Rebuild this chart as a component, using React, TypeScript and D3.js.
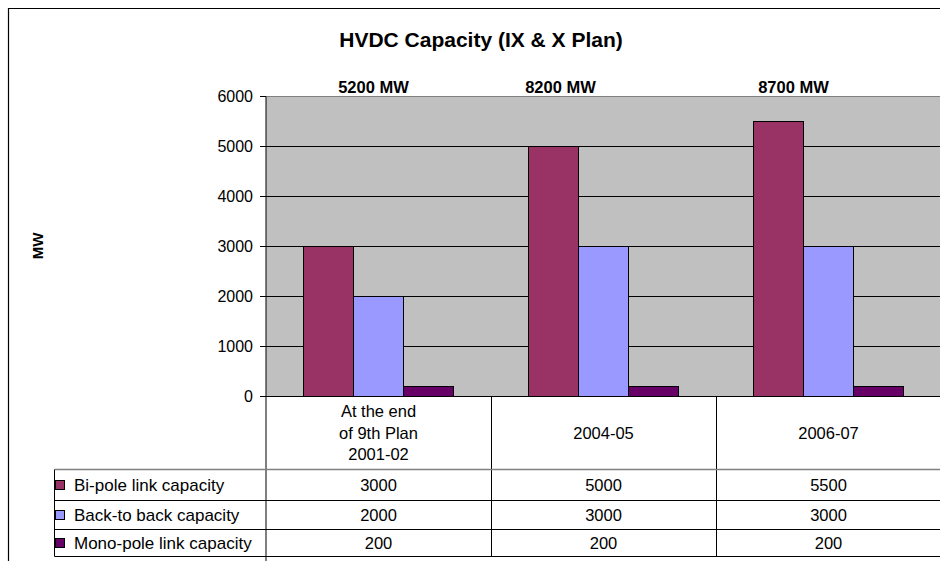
import { scaleBand, scaleLinear } from "d3";

const categories = ["At the end of 9th Plan 2001-02", "2004-05", "2006-07"];
const categoryLines = [["At the end", "of 9th Plan", "2001-02"], ["2004-05"], ["2006-07"]];
const seriesNames = ["Bi-pole link capacity", "Back-to back capacity", "Mono-pole link capacity"];
const biPole = [3000, 5000, 5500];
const backToBack = [2000, 3000, 3000];
const monoPole = [200, 200, 200];
const totalLabels = ["5200 MW", "8200 MW", "8700 MW"];
const yTicks = [0, 1000, 2000, 3000, 4000, 5000, 6000];

const colors = ["#993366", "#9999FF", "#660066"];
const font = "'Liberation Sans', Arial, sans-serif";

export default function App() {
  const width = 940;
  const height = 561;
  const plotLeft = 266;
  const plotRight = 941;
  const plotTop = 96.5;
  const plotBottom = 396.5;

  const series = [biPole, backToBack, monoPole];

  const x = scaleBand<string>().domain(categories).range([plotLeft, plotRight]);
  const xs = scaleBand<string>().domain(seriesNames).range([0, x.bandwidth()]).paddingOuter(0.75);
  const y = scaleLinear().domain([0, 6000]).range([plotBottom, plotTop]);

  // table rows
  const headerBottom = 469.5;
  const rowLines = [headerBottom, 500.5, 529.5, 556.5];
  const tableLeft = 54.5;

  // hand placed total labels (offset from category centre)
  const labelOffsets = [-5, -43, -35];

  return (
    <svg
      width={width}
      height={height}
      style={{ position: "absolute", left: 0, top: 0 }}
      fontFamily={font}
    >
      <rect x={0} y={0} width={width} height={height} fill="#fff" />
      {/* chart frame, cropped on right and bottom */}
      <path d={`M8.5,${height} V8.5 H${width}`} fill="none" stroke="#000" strokeWidth={1.2} />

      <text x={481} y={47} textAnchor="middle" fontSize={21} fontWeight="bold">
        HVDC Capacity (IX &amp; X Plan)
      </text>

      <text
        transform={`translate(43,246) rotate(-90)`}
        textAnchor="middle"
        fontSize={15}
        fontWeight="bold"
      >
        MW
      </text>

      {/* plot area */}
      <rect x={plotLeft} y={plotTop} width={plotRight - plotLeft} height={plotBottom - plotTop} fill="#C0C0C0" />
      <line x1={plotLeft} x2={plotRight} y1={plotTop} y2={plotTop} stroke="#808080" />
      {yTicks.slice(1, -1).map((t) => (
        <line key={t} x1={plotLeft} x2={plotRight} y1={y(t)} y2={y(t)} stroke="#000" strokeWidth={1} />
      ))}

      {categories.map((c, i) => (
        <g key={c}>
          {series.map((vals, j) => (
            <rect
              key={j}
              x={(x(c) as number) + (xs(seriesNames[j]) as number)}
              y={y(vals[i])}
              width={xs.bandwidth()}
              height={y(0) - y(vals[i])}
              fill={colors[j]}
              stroke="#000"
              strokeWidth={1}
            />
          ))}
        </g>
      ))}

      {/* axis */}
      <line x1={plotLeft} x2={plotLeft} y1={plotTop} y2={height} stroke="#000" />
      <line x1={plotLeft} x2={plotRight} y1={plotBottom} y2={plotBottom} stroke="#000" />
      {yTicks.map((t) => (
        <g key={t}>
          <line x1={plotLeft - 6} x2={plotLeft} y1={y(t)} y2={y(t)} stroke="#000" />
          <text x={253} y={y(t) + 5.5} textAnchor="end" fontSize={16}>
            {t}
          </text>
        </g>
      ))}

      {totalLabels.map((l, i) => (
        <text
          key={l}
          x={(x(categories[i]) as number) + x.bandwidth() / 2 + labelOffsets[i]}
          y={93}
          textAnchor="middle"
          fontSize={16.5}
          fontWeight="bold"
        >
          {l}
        </text>
      ))}

      {/* data table */}
      {categories.map((c, i) => (
        <g key={c}>
          <line
            x1={(x(c) as number) + x.bandwidth() + 0.5}
            x2={(x(c) as number) + x.bandwidth() + 0.5}
            y1={plotBottom}
            y2={rowLines[3]}
            stroke="#000"
          />
          {categoryLines[i].map((ln, k) => {
            const n = categoryLines[i].length;
            const mid = (plotBottom + headerBottom) / 2;
            return (
              <text
                key={k}
                x={(x(c) as number) + x.bandwidth() / 2}
                y={mid + (k - (n - 1) / 2) * 21.5 + 5.5}
                textAnchor="middle"
                fontSize={16.5}
              >
                {ln}
              </text>
            );
          })}
          {series.map((vals, j) => (
            <text
              key={j}
              x={(x(c) as number) + x.bandwidth() / 2}
              y={(rowLines[j] + rowLines[j + 1]) / 2 + 5.5}
              textAnchor="middle"
              fontSize={16.5}
            >
              {vals[i]}
            </text>
          ))}
        </g>
      ))}
      {rowLines.map((r, k) => (
        <line
          key={r}
          x1={tableLeft}
          x2={width}
          y1={r}
          y2={r}
          stroke={k === 0 ? "#808080" : "#000"}
          strokeWidth={k === 0 ? 1.5 : 1}
        />
      ))}
      <line x1={tableLeft} x2={tableLeft} y1={headerBottom} y2={rowLines[3]} stroke="#000" />
      {seriesNames.map((s, j) => {
        const mid = (rowLines[j] + rowLines[j + 1]) / 2;
        return (
          <g key={s}>
            <rect x={55.5} y={mid - 4.5} width={9} height={9} fill={colors[j]} stroke="#000" strokeWidth={1} />
            <text x={74} y={mid + 5.5} fontSize={17}>
              {s}
            </text>
          </g>
        );
      })}
    </svg>
  );
}
